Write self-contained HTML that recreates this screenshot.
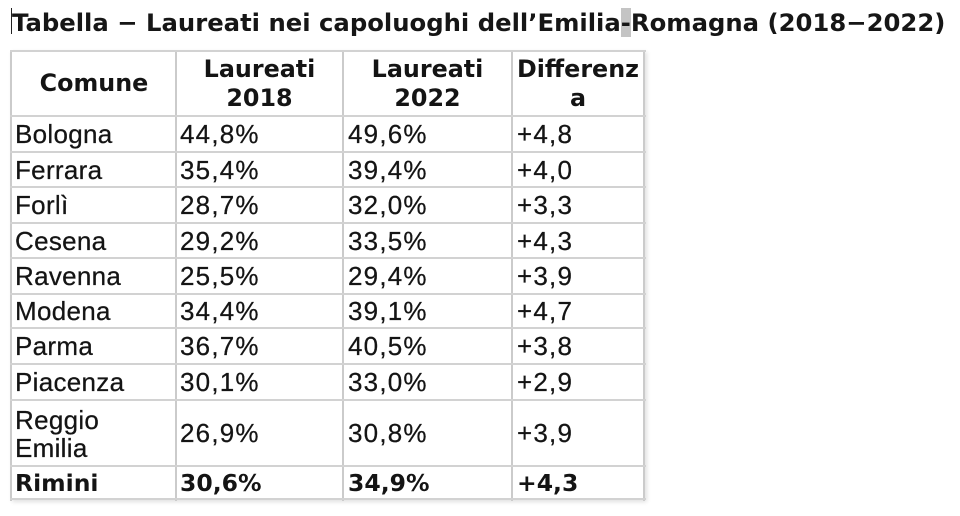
<!DOCTYPE html>
<html>
<head>
<meta charset="utf-8">
<style>
  html,body{margin:0;padding:0;background:#fff;}
  body{width:960px;height:516px;position:relative;overflow:hidden;font-family:"Liberation Sans","DejaVu Sans",sans-serif;color:#141414;}
  .title{position:absolute;left:12px;top:8px;height:30px;line-height:30px;white-space:nowrap;
    font-family:"DejaVu Sans","Liberation Sans",sans-serif;font-weight:bold;font-size:24.3px;letter-spacing:0;color:#161616;}
  .hl{background:#c4c4c4;display:inline-block;line-height:29px;}
  .cursor{position:absolute;left:11px;top:8px;width:1px;height:26px;background:#222;}
  .box{position:absolute;left:10px;top:50px;width:635px;height:450px;box-shadow:2px 2px 4px rgba(0,0,0,0.12);background:#fff;}
  .vl{position:absolute;width:2px;background:#cbcbcb;top:50px;height:451px;}
  .hln{position:absolute;height:2px;background:#d2d2d2;left:10px;width:636px;}
  .c{position:absolute;display:flex;align-items:center;white-space:nowrap;font-size:26px;letter-spacing:0.3px;-webkit-text-stroke:0.25px #141414;}
  .n{letter-spacing:1.2px;}
  .h{position:absolute;display:flex;align-items:center;justify-content:center;text-align:center;
    font-family:"DejaVu Sans","Liberation Sans",sans-serif;font-weight:bold;font-size:23.8px;line-height:29px;color:#141414;}
  .b{font-family:"DejaVu Sans","Liberation Sans",sans-serif;font-weight:bold;font-size:23.5px;letter-spacing:0;-webkit-text-stroke:0;}
  .two{line-height:28px;}
</style>
</head>
<body>
<div class="title">Tabella − Laureati nei capoluoghi dell’Emilia<span class="hl">-</span>Romagna (2018−2022)</div>
<div class="cursor"></div>

<div class="box"></div>

<div class="vl" style="left:10px"></div>
<div class="vl" style="left:175px"></div>
<div class="vl" style="left:342px"></div>
<div class="vl" style="left:511px"></div>
<div class="vl" style="left:643px"></div>

<div class="hln" style="top:50px"></div>
<div class="hln" style="top:115px"></div>
<div class="hln" style="top:151px"></div>
<div class="hln" style="top:186px"></div>
<div class="hln" style="top:222px"></div>
<div class="hln" style="top:257px"></div>
<div class="hln" style="top:293px"></div>
<div class="hln" style="top:327px"></div>
<div class="hln" style="top:363px"></div>
<div class="hln" style="top:399px"></div>
<div class="hln" style="top:465px"></div>
<div class="hln" style="top:498px"></div>

<div class="h" style="left:12px;width:164px;top:52px;height:63px;">Comune</div>
<div class="h" style="left:177px;width:165px;top:52px;height:63px;">Laureati<br>2018</div>
<div class="h" style="left:344px;width:167px;top:52px;height:63px;">Laureati<br>2022</div>
<div class="h" style="left:513px;width:130px;top:52px;height:63px;">Differenz<br>a</div>

<div class="c" style="left:15px;top:117px;height:35px;">Bologna</div>
<div class="c n" style="left:180px;top:117px;height:35px;">44,8%</div>
<div class="c n" style="left:348px;top:117px;height:35px;">49,6%</div>
<div class="c n" style="left:517px;top:117px;height:35px;">+4,8</div>

<div class="c" style="left:15px;top:153px;height:34px;">Ferrara</div>
<div class="c n" style="left:180px;top:153px;height:34px;">35,4%</div>
<div class="c n" style="left:348px;top:153px;height:34px;">39,4%</div>
<div class="c n" style="left:517px;top:153px;height:34px;">+4,0</div>

<div class="c" style="left:15px;top:188px;height:35px;">Forlì</div>
<div class="c n" style="left:180px;top:188px;height:35px;">28,7%</div>
<div class="c n" style="left:348px;top:188px;height:35px;">32,0%</div>
<div class="c n" style="left:517px;top:188px;height:35px;">+3,3</div>

<div class="c" style="left:15px;top:224px;height:34px;">Cesena</div>
<div class="c n" style="left:180px;top:224px;height:34px;">29,2%</div>
<div class="c n" style="left:348px;top:224px;height:34px;">33,5%</div>
<div class="c n" style="left:517px;top:224px;height:34px;">+4,3</div>

<div class="c" style="left:15px;top:259px;height:35px;">Ravenna</div>
<div class="c n" style="left:180px;top:259px;height:35px;">25,5%</div>
<div class="c n" style="left:348px;top:259px;height:35px;">29,4%</div>
<div class="c n" style="left:517px;top:259px;height:35px;">+3,9</div>

<div class="c" style="left:15px;top:295px;height:33px;">Modena</div>
<div class="c n" style="left:180px;top:295px;height:33px;">34,4%</div>
<div class="c n" style="left:348px;top:295px;height:33px;">39,1%</div>
<div class="c n" style="left:517px;top:295px;height:33px;">+4,7</div>

<div class="c" style="left:15px;top:329px;height:35px;">Parma</div>
<div class="c n" style="left:180px;top:329px;height:35px;">36,7%</div>
<div class="c n" style="left:348px;top:329px;height:35px;">40,5%</div>
<div class="c n" style="left:517px;top:329px;height:35px;">+3,8</div>

<div class="c" style="left:15px;top:365px;height:35px;">Piacenza</div>
<div class="c n" style="left:180px;top:365px;height:35px;">30,1%</div>
<div class="c n" style="left:348px;top:365px;height:35px;">33,0%</div>
<div class="c n" style="left:517px;top:365px;height:35px;">+2,9</div>

<div class="c two" style="left:15px;top:401px;height:65px;">Reggio<br>Emilia</div>
<div class="c n" style="left:180px;top:401px;height:65px;">26,9%</div>
<div class="c n" style="left:348px;top:401px;height:65px;">30,8%</div>
<div class="c n" style="left:517px;top:401px;height:65px;">+3,9</div>

<div class="c b" style="left:15px;top:467px;height:32px;">Rimini</div>
<div class="c b" style="left:180px;top:467px;height:32px;">30,6%</div>
<div class="c b" style="left:348px;top:467px;height:32px;">34,9%</div>
<div class="c b" style="left:517px;top:467px;height:32px;">+4,3</div>
</body>
</html>
